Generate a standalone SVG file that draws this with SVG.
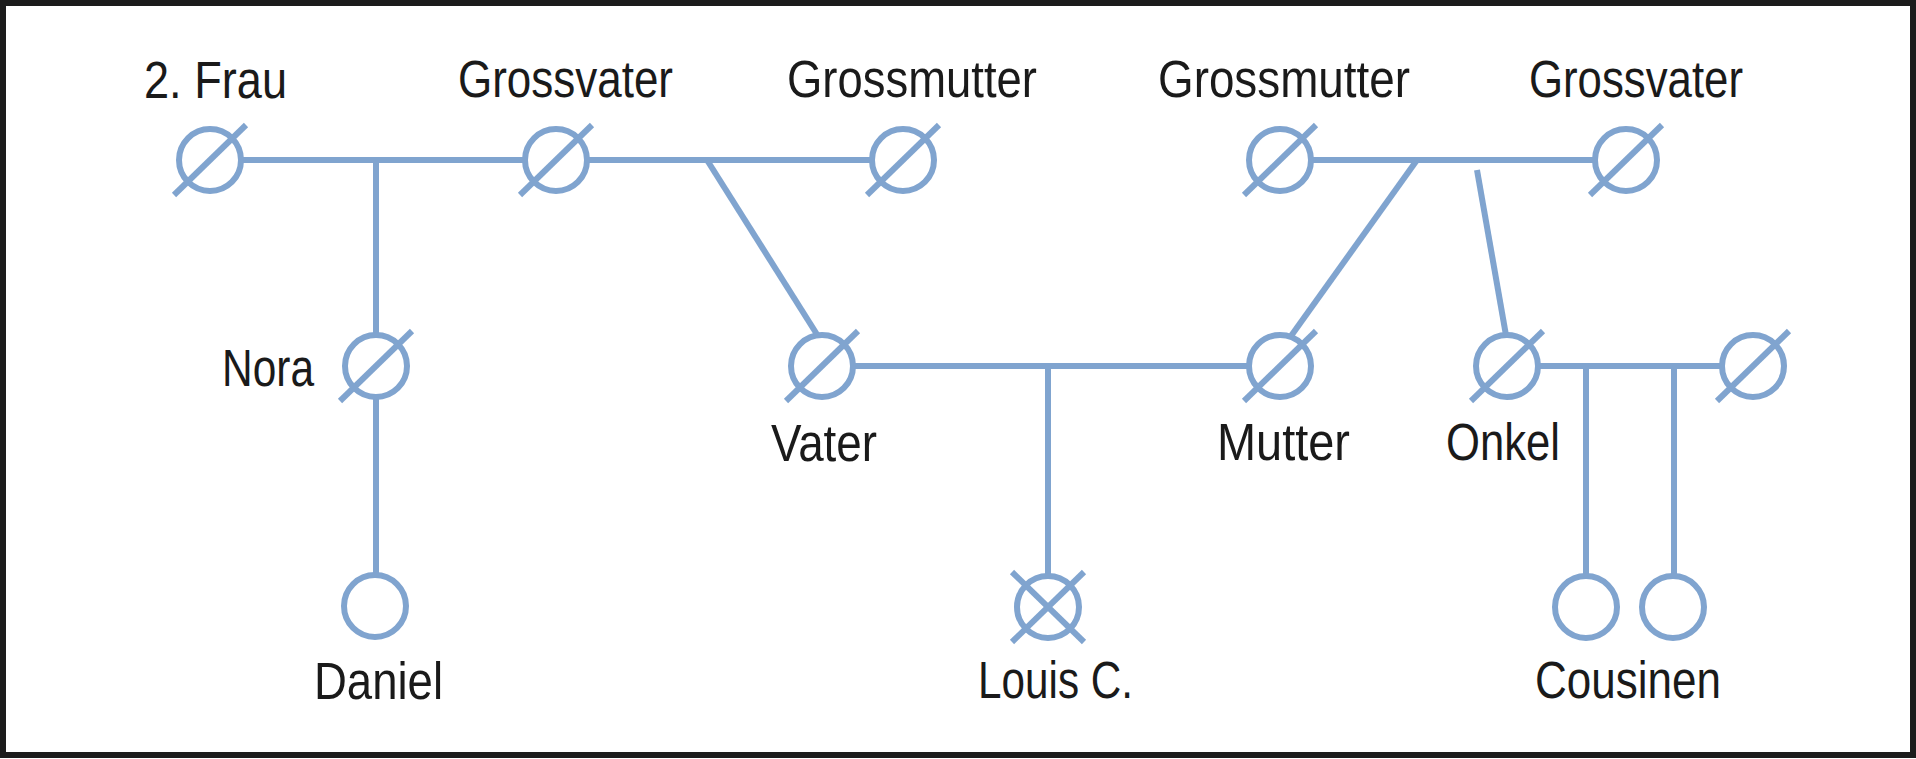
<svg xmlns="http://www.w3.org/2000/svg" width="1916" height="759" viewBox="0 0 1916 759">
<defs>
<style>
.ln{stroke:#80a4cf;stroke-width:6;fill:none;stroke-linecap:butt}
.c{stroke:#80a4cf;stroke-width:6;fill:#ffffff}
.t{font-family:"Liberation Sans",Arial,sans-serif;font-size:51px;fill:#1a1a1a}
</style>
<g id="dead">
<circle class="c" cx="0" cy="0" r="31"/>
<line class="ln" x1="-36" y1="35" x2="36" y2="-35"/>
</g>
<g id="alive">
<circle class="c" cx="0" cy="0" r="31"/>
</g>
<g id="cross">
<circle class="c" cx="0" cy="0" r="31"/>
<line class="ln" x1="-36" y1="-35" x2="36" y2="35"/>
<line class="ln" x1="36" y1="-35" x2="-36" y2="35"/>
</g>
</defs>
<rect x="0" y="0" width="1916" height="759" fill="#ffffff"/>
<rect x="3" y="3" width="1910" height="752" fill="none" stroke="#1c1c1c" stroke-width="6"/>
<g id="connectors">
<line class="ln" x1="241" y1="160" x2="525" y2="160"/>
<line class="ln" x1="376" y1="160" x2="376" y2="335"/>
<line class="ln" x1="376" y1="397" x2="376" y2="576"/>
<line class="ln" x1="587" y1="160" x2="872" y2="160"/>
<line class="ln" x1="707" y1="160" x2="818" y2="336"/>
<line class="ln" x1="1311" y1="160" x2="1595" y2="160"/>
<line class="ln" x1="1417" y1="160" x2="1291" y2="336"/>
<line class="ln" x1="1477" y1="170" x2="1507" y2="341"/>
<line class="ln" x1="853" y1="366" x2="1249" y2="366"/>
<line class="ln" x1="1048" y1="366" x2="1048" y2="577"/>
<line class="ln" x1="1538" y1="366" x2="1722" y2="366"/>
<line class="ln" x1="1586" y1="366" x2="1586" y2="577"/>
<line class="ln" x1="1674" y1="366" x2="1674" y2="577"/>
</g>
<g id="frau2"><use href="#dead" x="210" y="160"/><text class="t" x="144" y="98" textLength="143" lengthAdjust="spacingAndGlyphs">2. Frau</text></g>
<g id="grossvater1"><use href="#dead" x="556" y="160"/><text class="t" x="458" y="97" textLength="215" lengthAdjust="spacingAndGlyphs">Grossvater</text></g>
<g id="grossmutter1"><use href="#dead" x="903" y="160"/><text class="t" x="787" y="97" textLength="250" lengthAdjust="spacingAndGlyphs">Grossmutter</text></g>
<g id="grossmutter2"><use href="#dead" x="1280" y="160"/><text class="t" x="1158" y="97" textLength="252" lengthAdjust="spacingAndGlyphs">Grossmutter</text></g>
<g id="grossvater2"><use href="#dead" x="1626" y="160"/><text class="t" x="1529" y="97" textLength="214" lengthAdjust="spacingAndGlyphs">Grossvater</text></g>
<g id="nora"><use href="#dead" x="376" y="366"/><text class="t" x="222" y="386" textLength="92" lengthAdjust="spacingAndGlyphs">Nora</text></g>
<g id="vater"><use href="#dead" x="822" y="366"/><text class="t" x="771" y="461" textLength="106" lengthAdjust="spacingAndGlyphs">Vater</text></g>
<g id="mutter"><use href="#dead" x="1280" y="366"/><text class="t" x="1217" y="460" textLength="133" lengthAdjust="spacingAndGlyphs">Mutter</text></g>
<g id="onkel"><use href="#dead" x="1507" y="366"/><text class="t" x="1446" y="460" textLength="114" lengthAdjust="spacingAndGlyphs">Onkel</text></g>
<g id="tante"><use href="#dead" x="1753" y="366"/></g>
<g id="daniel"><use href="#alive" x="375" y="606"/><text class="t" x="314" y="699" textLength="129" lengthAdjust="spacingAndGlyphs">Daniel</text></g>
<g id="louis"><use href="#cross" x="1048" y="607"/><text class="t" x="978" y="698" textLength="155" lengthAdjust="spacingAndGlyphs">Louis C.</text></g>
<g id="cousine1"><use href="#alive" x="1586" y="607"/></g>
<g id="cousine2"><use href="#alive" x="1673" y="607"/><text class="t" x="1535" y="698" textLength="186" lengthAdjust="spacingAndGlyphs">Cousinen</text></g>
</svg>
